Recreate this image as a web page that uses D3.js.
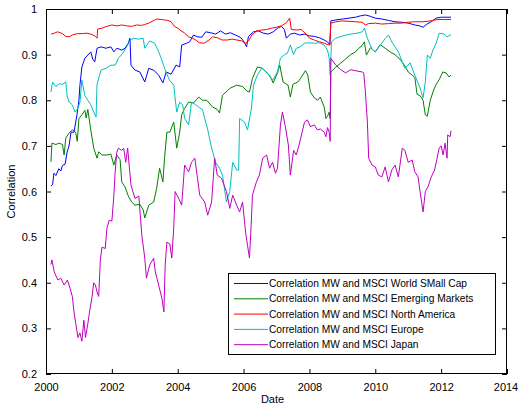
<!DOCTYPE html>
<html>
<head>
<meta charset="utf-8">
<script src="https://cdn.jsdelivr.net/npm/d3@7"></script>
<style>
  html, body { margin: 0; padding: 0; background: #fff; }
  svg { display: block; font-family: "Liberation Sans", Arial, Helvetica, sans-serif; }
  .tick text { font-size: 11px; fill: #000; }
</style>
</head>
<body>
<svg id="chart" width="518" height="410"></svg>
<script>
// Rolling correlation of MW with MSCI indices: [decimal year, correlation]
const smallCap = [
  [2000.15,0.612],[2000.2,0.615],[2000.24,0.64],[2000.3,0.635],[2000.39,0.65],[2000.45,0.645],
  [2000.5,0.657],[2000.58,0.66],[2000.64,0.686],[2000.7,0.70],[2000.76,0.73],[2000.85,0.73],
  [2000.94,0.768],[2001.0,0.80],[2001.03,0.833],[2001.09,0.873],[2001.18,0.892],[2001.27,0.899],
  [2001.36,0.906],[2001.42,0.89],[2001.48,0.884],[2001.55,0.914],[2001.67,0.917],[2001.82,0.914],
  [2001.97,0.917],[2002.06,0.906],[2002.15,0.914],[2002.3,0.91],[2002.4,0.914],[2002.5,0.925],
  [2002.55,0.936],[2002.58,0.877],[2002.7,0.866],[2002.85,0.862],[2003.0,0.84],[2003.12,0.87],
  [2003.27,0.866],[2003.42,0.855],[2003.55,0.838],[2003.65,0.862],[2003.8,0.857],[2003.95,0.877],
  [2004.06,0.873],[2004.12,0.921],[2004.27,0.925],[2004.36,0.928],[2004.48,0.943],[2004.6,0.939],
  [2004.73,0.938],[2004.85,0.95],[2005.0,0.948],[2005.15,0.945],[2005.3,0.952],[2005.45,0.945],
  [2005.6,0.948],[2005.75,0.943],[2005.9,0.938],[2006.0,0.93],[2006.09,0.917],[2006.15,0.94],
  [2006.3,0.95],[2006.45,0.952],[2006.6,0.947],[2006.75,0.945],[2006.9,0.95],[2007.03,0.958],
  [2007.15,0.962],[2007.24,0.955],[2007.3,0.936],[2007.42,0.945],[2007.55,0.947],[2007.7,0.943],
  [2007.85,0.945],[2008.0,0.941],[2008.15,0.94],[2008.3,0.937],[2008.45,0.932],[2008.55,0.928],
  [2008.62,0.922],[2008.65,0.974],[2008.8,0.976],[2009.0,0.978],[2009.2,0.98],[2009.4,0.982],
  [2009.55,0.985],[2009.7,0.987],[2009.85,0.984],[2010.0,0.98],[2010.2,0.978],[2010.4,0.975],
  [2010.6,0.972],[2010.8,0.971],[2011.0,0.969],[2011.2,0.965],[2011.35,0.963],[2011.45,0.96],
  [2011.55,0.966],[2011.7,0.972],[2011.85,0.98],[2012.0,0.982],[2012.15,0.982],[2012.3,0.982]
];

const emerging = [
  [2000.15,0.665],[2000.18,0.706],[2000.3,0.703],[2000.4,0.706],[2000.5,0.703],[2000.55,0.68],
  [2000.6,0.717],[2000.7,0.728],[2000.8,0.735],[2000.9,0.73],[2000.95,0.71],[2001.0,0.76],
  [2001.09,0.768],[2001.18,0.778],[2001.22,0.761],[2001.27,0.78],[2001.36,0.735],[2001.45,0.695],
  [2001.55,0.673],[2001.6,0.687],[2001.7,0.68],[2001.85,0.68],[2001.97,0.682],[2002.06,0.658],
  [2002.15,0.68],[2002.25,0.67],[2002.3,0.621],[2002.4,0.61],[2002.5,0.59],[2002.6,0.577],
  [2002.7,0.57],[2002.85,0.572],[2002.95,0.56],[2003.0,0.542],[2003.12,0.57],[2003.27,0.577],
  [2003.36,0.607],[2003.45,0.651],[2003.55,0.621],[2003.6,0.673],[2003.67,0.73],[2003.76,0.73],
  [2003.88,0.752],[2003.97,0.695],[2004.06,0.73],[2004.12,0.768],[2004.21,0.782],[2004.33,0.796],
  [2004.48,0.794],[2004.64,0.807],[2004.75,0.8],[2004.88,0.8],[2005.06,0.785],[2005.2,0.78],
  [2005.27,0.772],[2005.36,0.811],[2005.5,0.82],[2005.58,0.826],[2005.79,0.833],[2005.97,0.83],
  [2006.1,0.82],[2006.18,0.818],[2006.27,0.848],[2006.42,0.873],[2006.58,0.87],[2006.7,0.86],
  [2006.79,0.855],[2006.9,0.838],[2007.03,0.86],[2007.1,0.877],[2007.2,0.84],[2007.35,0.833],
  [2007.42,0.807],[2007.5,0.835],[2007.65,0.84],[2007.75,0.85],[2007.88,0.865],[2007.95,0.855],
  [2008.03,0.818],[2008.15,0.805],[2008.25,0.8],[2008.33,0.807],[2008.45,0.785],[2008.5,0.76],
  [2008.55,0.765],[2008.6,0.774],[2008.63,0.76],[2008.65,0.862],[2008.79,0.872],[2009.06,0.888],
  [2009.25,0.9],[2009.4,0.906],[2009.5,0.914],[2009.6,0.92],[2009.67,0.928],[2009.73,0.899],
  [2009.85,0.915],[2010.0,0.906],[2010.15,0.922],[2010.3,0.914],[2010.45,0.906],[2010.6,0.9],
  [2010.75,0.89],[2010.9,0.875],[2011.0,0.862],[2011.12,0.855],[2011.2,0.85],[2011.27,0.813],
  [2011.36,0.81],[2011.45,0.8],[2011.52,0.768],[2011.58,0.765],[2011.67,0.8],[2011.76,0.82],
  [2011.85,0.835],[2011.94,0.845],[2012.05,0.862],[2012.15,0.86],[2012.24,0.851],[2012.3,0.855]
];

const northAmerica = [
  [2000.15,0.945],[2000.25,0.947],[2000.35,0.95],[2000.5,0.946],[2000.6,0.94],[2000.7,0.939],
  [2000.8,0.943],[2000.95,0.946],[2001.1,0.946],[2001.25,0.947],[2001.4,0.944],[2001.5,0.94],
  [2001.55,0.936],[2001.57,0.956],[2001.7,0.958],[2001.85,0.962],[2002.0,0.965],[2002.15,0.963],
  [2002.3,0.965],[2002.45,0.963],[2002.6,0.962],[2002.75,0.965],[2002.9,0.964],[2003.0,0.966],
  [2003.12,0.969],[2003.25,0.974],[2003.36,0.978],[2003.5,0.977],[2003.6,0.976],[2003.7,0.975],
  [2003.8,0.972],[2003.9,0.962],[2004.0,0.958],[2004.1,0.952],[2004.2,0.948],[2004.33,0.939],
  [2004.45,0.936],[2004.55,0.932],[2004.65,0.926],[2004.8,0.925],[2004.95,0.932],[2005.06,0.939],
  [2005.2,0.937],[2005.35,0.932],[2005.5,0.932],[2005.65,0.934],[2005.8,0.932],[2005.95,0.93],
  [2006.05,0.925],[2006.15,0.93],[2006.25,0.943],[2006.4,0.952],[2006.55,0.954],[2006.7,0.955],
  [2006.85,0.958],[2007.0,0.96],[2007.15,0.963],[2007.3,0.97],[2007.4,0.98],[2007.45,0.955],
  [2007.6,0.954],[2007.75,0.955],[2007.9,0.945],[2008.0,0.936],[2008.15,0.932],[2008.3,0.928],
  [2008.45,0.925],[2008.55,0.922],[2008.62,0.921],[2008.65,0.969],[2008.8,0.972],[2009.0,0.974],
  [2009.2,0.973],[2009.4,0.972],[2009.6,0.971],[2009.7,0.965],[2009.8,0.968],[2010.0,0.969],
  [2010.2,0.967],[2010.4,0.968],[2010.6,0.969],[2010.8,0.969],[2011.0,0.971],[2011.2,0.972],
  [2011.4,0.972],[2011.6,0.973],[2011.75,0.975],[2011.9,0.977],[2012.1,0.977],[2012.3,0.977]
];

const europe = [
  [2000.15,0.818],[2000.2,0.84],[2000.3,0.83],[2000.4,0.836],[2000.5,0.835],[2000.6,0.84],
  [2000.64,0.81],[2000.7,0.796],[2000.8,0.79],[2000.88,0.774],[2000.95,0.78],[2001.03,0.795],
  [2001.09,0.844],[2001.18,0.81],[2001.27,0.8],[2001.36,0.79],[2001.45,0.774],[2001.52,0.763],
  [2001.55,0.835],[2001.67,0.866],[2001.82,0.87],[2001.97,0.877],[2002.1,0.877],[2002.2,0.892],
  [2002.33,0.903],[2002.45,0.917],[2002.55,0.93],[2002.65,0.936],[2002.8,0.934],[2002.95,0.936],
  [2003.0,0.914],[2003.15,0.93],[2003.3,0.925],[2003.4,0.91],[2003.5,0.892],[2003.6,0.87],
  [2003.75,0.844],[2003.88,0.833],[2003.92,0.805],[2003.97,0.774],[2004.06,0.796],[2004.15,0.79],
  [2004.21,0.76],[2004.33,0.746],[2004.42,0.796],[2004.55,0.79],[2004.67,0.783],[2004.75,0.78],
  [2004.82,0.76],[2004.9,0.739],[2005.03,0.695],[2005.15,0.664],[2005.27,0.651],[2005.36,0.636],
  [2005.48,0.577],[2005.58,0.6],[2005.67,0.664],[2005.79,0.647],[2005.85,0.647],[2005.88,0.76],
  [2006.03,0.752],[2006.12,0.735],[2006.24,0.783],[2006.3,0.833],[2006.42,0.855],[2006.55,0.87],
  [2006.7,0.862],[2006.88,0.844],[2007.03,0.862],[2007.12,0.892],[2007.24,0.9],[2007.33,0.903],
  [2007.42,0.921],[2007.52,0.9],[2007.6,0.914],[2007.7,0.916],[2007.85,0.925],[2008.0,0.926],
  [2008.15,0.925],[2008.3,0.926],[2008.45,0.921],[2008.55,0.91],[2008.6,0.892],[2008.63,0.855],
  [2008.67,0.928],[2008.8,0.936],[2009.06,0.942],[2009.25,0.945],[2009.45,0.947],[2009.6,0.95],
  [2009.67,0.958],[2009.76,0.936],[2009.9,0.912],[2010.0,0.906],[2010.15,0.921],[2010.3,0.935],
  [2010.4,0.943],[2010.5,0.928],[2010.7,0.906],[2010.9,0.87],[2011.06,0.882],[2011.2,0.855],
  [2011.36,0.827],[2011.45,0.805],[2011.52,0.84],[2011.58,0.899],[2011.67,0.892],[2011.75,0.91],
  [2011.85,0.925],[2011.94,0.947],[2012.09,0.945],[2012.18,0.939],[2012.3,0.944]
];

const japan = [
  [2000.15,0.44],[2000.18,0.45],[2000.25,0.424],[2000.36,0.406],[2000.45,0.41],[2000.55,0.395],
  [2000.65,0.406],[2000.73,0.388],[2000.8,0.37],[2000.85,0.336],[2000.92,0.303],[2000.97,0.28],
  [2001.03,0.29],[2001.09,0.272],[2001.15,0.318],[2001.2,0.28],[2001.27,0.31],[2001.33,0.34],
  [2001.4,0.37],[2001.45,0.40],[2001.5,0.395],[2001.55,0.38],[2001.6,0.37],[2001.65,0.45],
  [2001.7,0.478],[2001.8,0.475],[2001.85,0.52],[2001.92,0.537],[2002.0,0.535],[2002.06,0.59],
  [2002.1,0.643],[2002.15,0.686],[2002.2,0.695],[2002.3,0.69],[2002.36,0.695],[2002.42,0.664],
  [2002.48,0.695],[2002.58,0.614],[2002.7,0.585],[2002.82,0.59],[2002.91,0.504],[2003.0,0.454],
  [2003.05,0.41],[2003.15,0.439],[2003.27,0.454],[2003.32,0.424],[2003.42,0.395],[2003.52,0.366],
  [2003.58,0.336],[2003.62,0.439],[2003.67,0.489],[2003.76,0.485],[2003.82,0.454],[2003.88,0.52],
  [2003.92,0.6],[2004.03,0.585],[2004.12,0.57],[2004.21,0.658],[2004.33,0.643],[2004.42,0.664],
  [2004.52,0.673],[2004.6,0.629],[2004.67,0.592],[2004.82,0.577],[2004.91,0.548],[2005.03,0.577],
  [2005.12,0.673],[2005.2,0.636],[2005.33,0.629],[2005.48,0.6],[2005.58,0.563],[2005.67,0.592],
  [2005.79,0.57],[2005.88,0.555],[2005.97,0.577],[2006.06,0.511],[2006.12,0.482],[2006.18,0.454],
  [2006.22,0.511],[2006.27,0.592],[2006.39,0.621],[2006.48,0.636],[2006.58,0.673],[2006.7,0.68],
  [2006.79,0.651],[2006.88,0.664],[2006.97,0.64],[2007.03,0.651],[2007.12,0.746],[2007.18,0.774],
  [2007.27,0.742],[2007.36,0.702],[2007.42,0.636],[2007.52,0.69],[2007.6,0.68],[2007.7,0.706],
  [2007.85,0.752],[2007.94,0.757],[2008.03,0.742],[2008.15,0.746],[2008.24,0.735],[2008.33,0.737],
  [2008.45,0.73],[2008.5,0.72],[2008.55,0.74],[2008.6,0.73],[2008.63,0.71],[2008.65,0.892],
  [2008.8,0.877],[2008.95,0.867],[2009.1,0.86],[2009.25,0.867],[2009.45,0.864],[2009.6,0.862],
  [2009.65,0.86],[2009.7,0.818],[2009.76,0.752],[2009.8,0.673],[2009.9,0.658],[2010.0,0.654],
  [2010.09,0.636],[2010.2,0.632],[2010.3,0.654],[2010.4,0.621],[2010.5,0.647],[2010.6,0.658],
  [2010.7,0.632],[2010.82,0.695],[2010.9,0.69],[2011.0,0.664],[2011.12,0.669],[2011.2,0.643],
  [2011.3,0.632],[2011.36,0.6],[2011.45,0.555],[2011.52,0.6],[2011.6,0.61],[2011.7,0.632],
  [2011.8,0.647],[2011.85,0.664],[2011.94,0.695],[2012.0,0.7],[2012.06,0.68],[2012.12,0.706],
  [2012.18,0.673],[2012.2,0.724],[2012.27,0.72],[2012.3,0.733]
];

const seriesNames = [
  "Correlation MW and MSCI World SMall Cap",
  "Correlation MW and MSCI Emerging Markets",
  "Correlation MW and MSCI North America",
  "Correlation MW and MSCI Europe",
  "Correlation MW and MSCI Japan"
];
const seriesColors = ["#0000ff", "#008000", "#ff0000", "#00bfbf", "#bf00bf"];
const seriesData = [smallCap, emerging, northAmerica, europe, japan];

const xTicks = [2000, 2002, 2004, 2006, 2008, 2010, 2012, 2014];
const yTicks = [0.2, 0.3, 0.4, 0.5, 0.6, 0.7, 0.8, 0.9, 1];

const svg = d3.select("#chart");
const plot = { left: 46, right: 507, top: 9, bottom: 374 };

const x = d3.scaleLinear().domain([2000, 2014]).range([plot.left, plot.right]);
const y = d3.scaleLinear().domain([0.2, 1]).range([plot.bottom, plot.top]);

svg.append("rect").attr("width", 518).attr("height", 410).attr("fill", "#fff");

const fmtY = v => d3.format("")(+v.toFixed(1));

// Axes with inward ticks on all four sides
const gx = svg.append("g").attr("transform", `translate(0,${plot.bottom})`)
  .call(d3.axisBottom(x).tickValues(xTicks).tickFormat(d3.format("d")).tickSizeInner(-5).tickSizeOuter(0).tickPadding(9));
const gxTop = svg.append("g").attr("transform", `translate(0,${plot.top})`)
  .call(d3.axisTop(x).tickValues(xTicks).tickFormat("").tickSizeInner(-5).tickSizeOuter(0));
const gy = svg.append("g").attr("transform", `translate(${plot.left},0)`)
  .call(d3.axisLeft(y).tickValues(yTicks).tickFormat(fmtY).tickSizeInner(-5).tickSizeOuter(0).tickPadding(9));
const gyRight = svg.append("g").attr("transform", `translate(${plot.right},0)`)
  .call(d3.axisRight(y).tickValues(yTicks).tickFormat("").tickSizeInner(-5).tickSizeOuter(0));

[gx, gxTop, gy, gyRight].forEach(g => {
  g.select(".domain").remove();
  g.selectAll(".tick line").attr("stroke", "#000");
  g.selectAll("text").attr("font-family", "'Liberation Sans', Arial, sans-serif").attr("font-size", 11);
});
// keep the last year label inside the canvas edge
gx.selectAll(".tick text").filter(d => d === 2014).attr("dx", -1.5);

// Series lines
const line = d3.line().x(d => x(d[0])).y(d => y(d[1]));
const clipId = "plotclip";
svg.append("clipPath").attr("id", clipId).append("rect")
  .attr("x", plot.left).attr("y", plot.top)
  .attr("width", plot.right - plot.left).attr("height", plot.bottom - plot.top);

const linesG = svg.append("g").attr("clip-path", `url(#${clipId})`);
seriesData.forEach((data, i) => {
  linesG.append("path")
    .datum(data)
    .attr("fill", "none")
    .attr("stroke", seriesColors[i])
    .attr("stroke-width", 1)
    .attr("stroke-linejoin", "miter")
    .attr("d", line);
});

// Plot box
svg.append("rect")
  .attr("x", plot.left + 0.5).attr("y", plot.top + 0.5)
  .attr("width", plot.right - plot.left - 1).attr("height", plot.bottom - plot.top - 1)
  .attr("fill", "none").attr("stroke", "#000").attr("stroke-width", 1)
  .attr("shape-rendering", "crispEdges");

// Axis titles
svg.append("text")
  .attr("x", (plot.left + plot.right) / 2 - 4).attr("y", 403)
  .attr("text-anchor", "middle").attr("font-size", 11).attr("fill", "#000")
  .text("Date");
svg.append("text")
  .attr("transform", `translate(15,${(plot.top + plot.bottom) / 2}) rotate(-90)`)
  .attr("text-anchor", "middle").attr("font-size", 11).attr("fill", "#000")
  .text("Correlation");

// Legend
const legend = { x: 228, y: 273, w: 267, h: 81, rowH: 15.3, first: 283 };
const lg = svg.append("g");
lg.append("rect")
  .attr("x", legend.x + 0.5).attr("y", legend.y + 0.5)
  .attr("width", legend.w).attr("height", legend.h)
  .attr("fill", "#fff").attr("stroke", "#000").attr("shape-rendering", "crispEdges");
seriesNames.forEach((name, i) => {
  const ry = legend.first + i * legend.rowH;
  lg.append("line")
    .attr("x1", 234).attr("x2", 268).attr("y1", ry + 0.5).attr("y2", ry + 0.5)
    .attr("stroke", seriesColors[i]).attr("stroke-width", 1);
  lg.append("text")
    .attr("x", 269).attr("y", ry + 4)
    .attr("font-size", 10.2).attr("fill", "#000")
    .text(name);
});
</script>
</body>
</html>
